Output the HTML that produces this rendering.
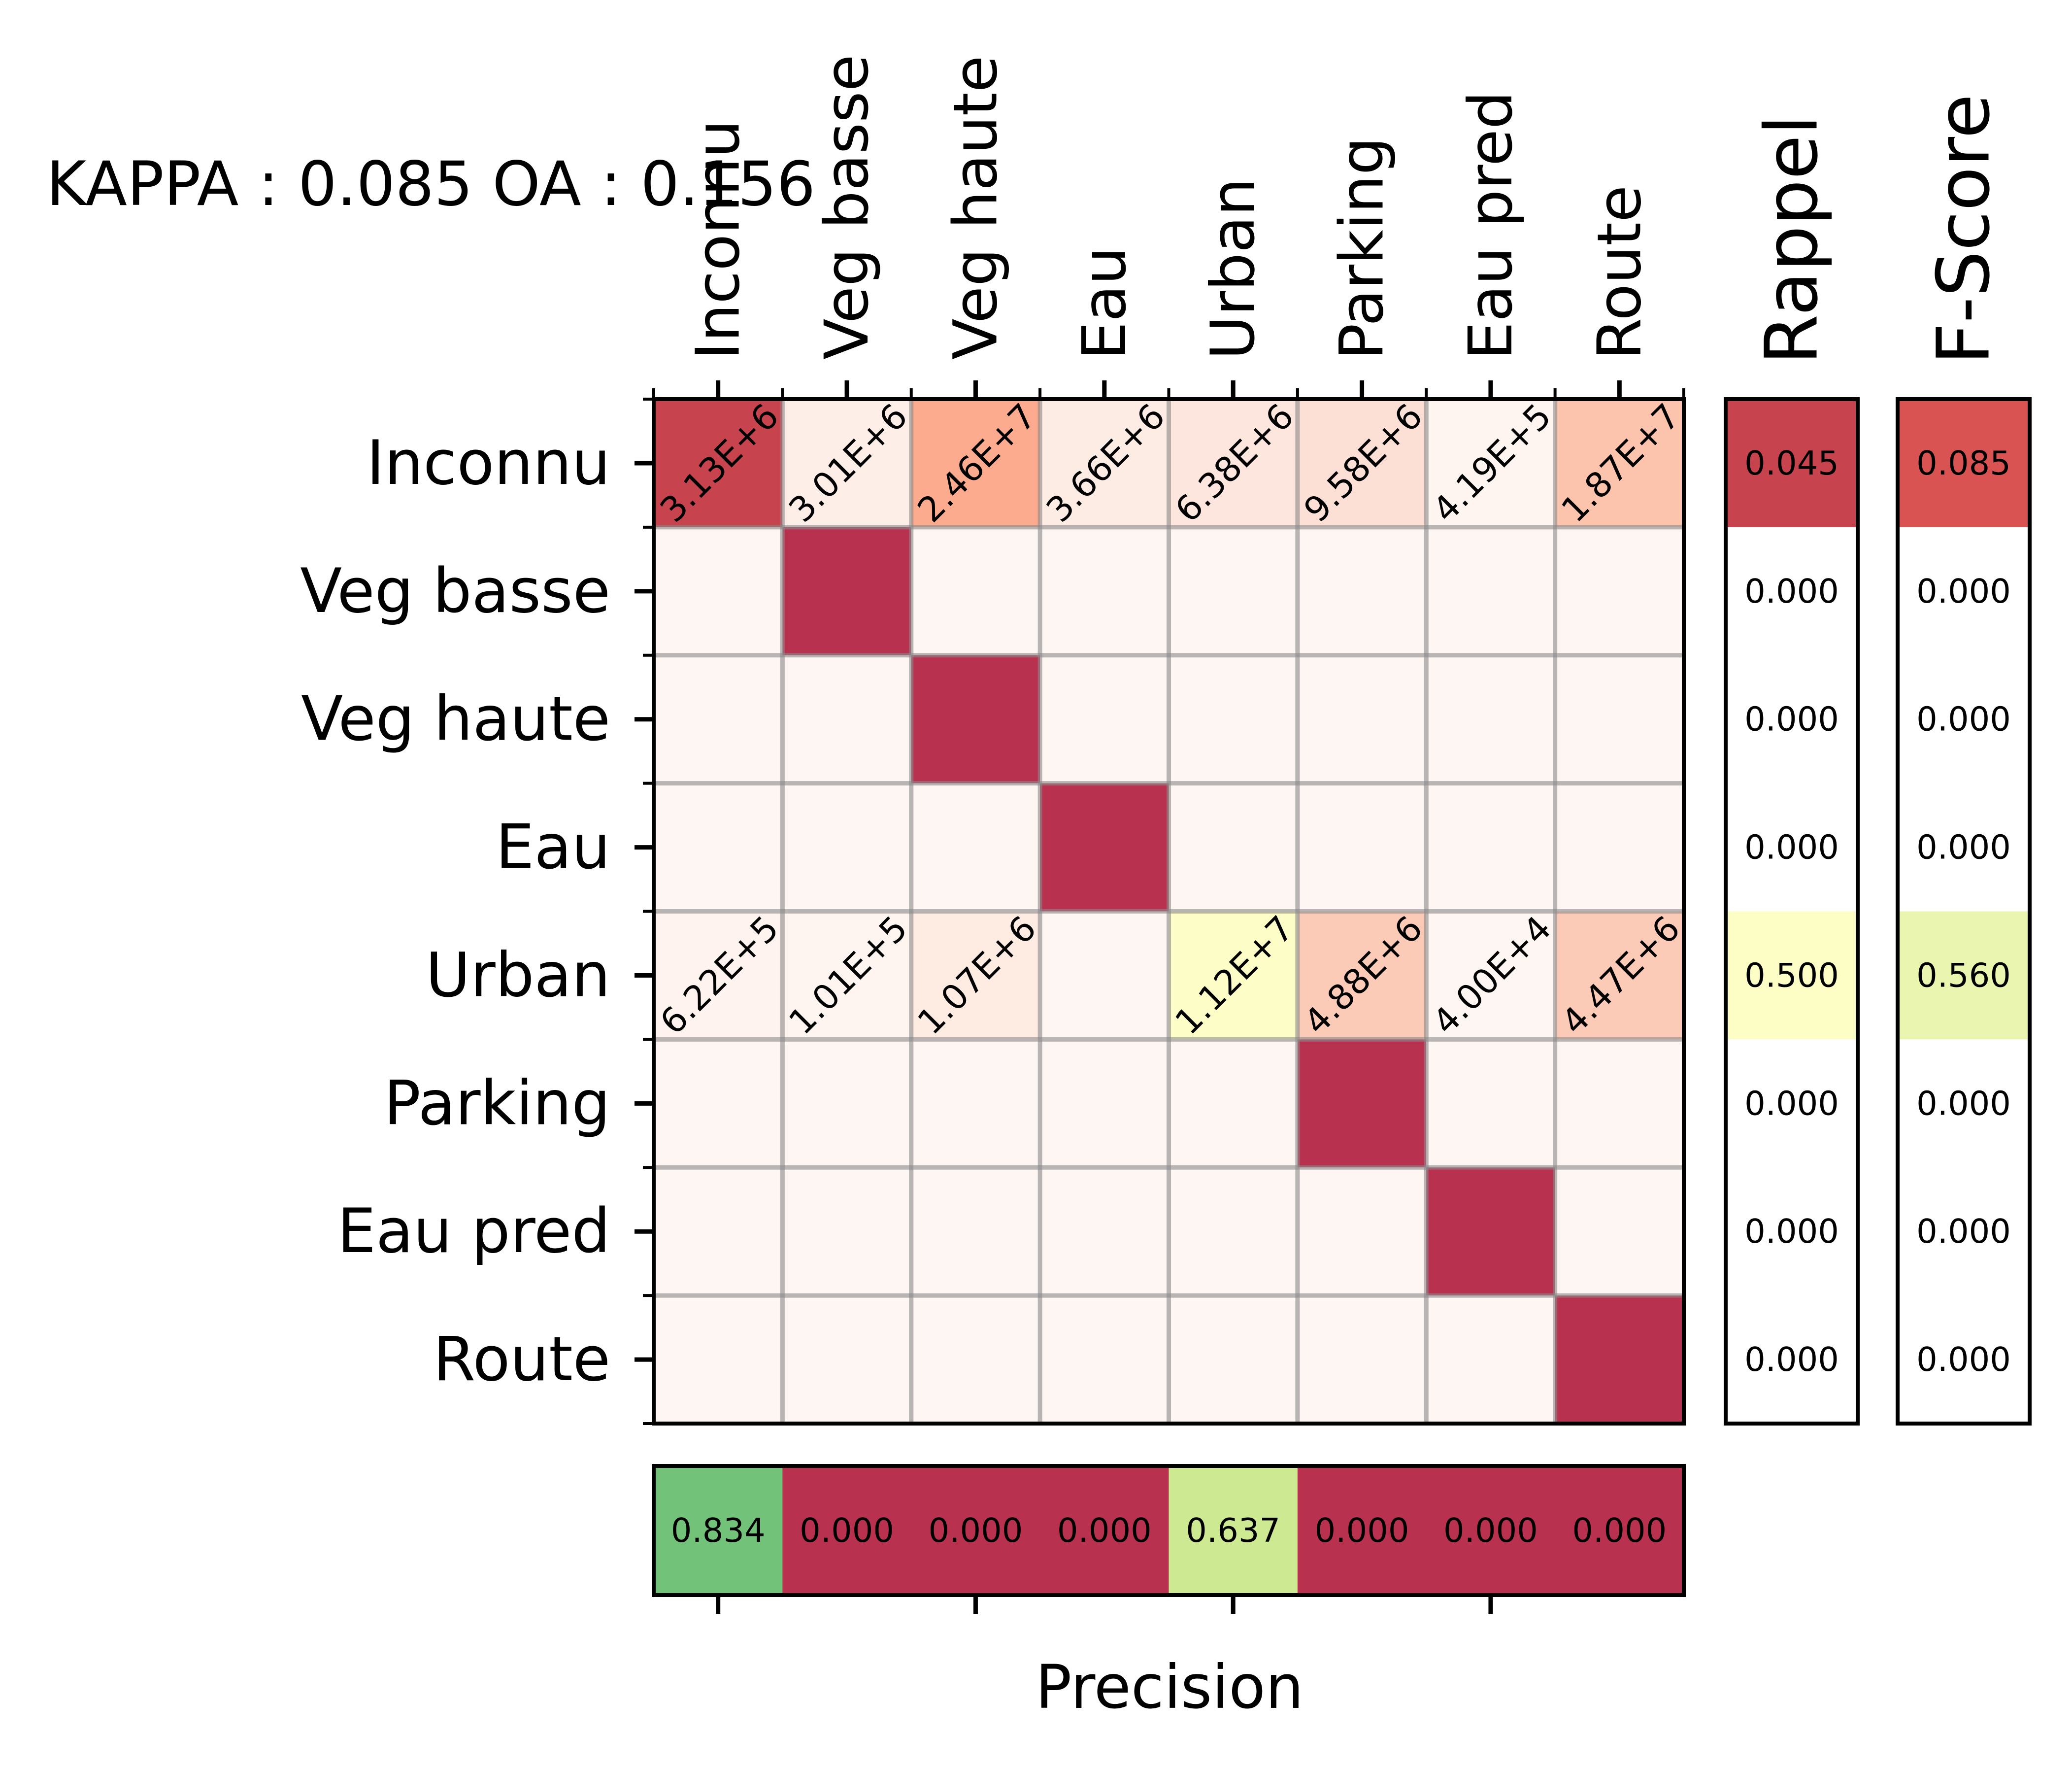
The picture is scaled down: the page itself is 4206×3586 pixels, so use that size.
<!DOCTYPE html>
<html><head><meta charset="utf-8"><style>
html,body{margin:0;padding:0;background:#fff}
svg{display:block}
text{font-family:"DejaVu Sans","Liberation Sans",sans-serif;fill:#000}
</style></head><body>
<svg id="chart" width="4206" height="3586" viewBox="0 0 4206 3586" xmlns="http://www.w3.org/2000/svg">
<text x="94" y="416" font-size="124">KAPPA : 0.085 OA : 0.156</text>
<g id="g"></g>
</svg>
<script>
const classes = ["Inconnu","Veg basse","Veg haute","Eau","Urban","Parking","Eau pred","Route"];
const cellLabels = [
 ["3.13E+6","3.01E+6","2.46E+7","3.66E+6","6.38E+6","9.58E+6","4.19E+5","1.87E+7"],
 ["","","","","","","",""],["","","","","","","",""],["","","","","","","",""],
 ["6.22E+5","1.01E+5","1.07E+6","","1.12E+7","4.88E+6","4.00E+4","4.47E+6"],
 ["","","","","","","",""],["","","","","","","",""],["","","","","","","",""]];
const cellColors = [
 ["#c7444f","#feeee8","#fcab8f","#fdece4","#fde6dd","#fde0d5","#fef5f1","#fcc4ac"],
 ["#fef6f3","#b83250","#fef6f3","#fef6f3","#fef6f3","#fef6f3","#fef6f3","#fef6f3"],
 ["#fef6f3","#fef6f3","#b83250","#fef6f3","#fef6f3","#fef6f3","#fef6f3","#fef6f3"],
 ["#fef6f3","#fef6f3","#fef6f3","#b83250","#fef6f3","#fef6f3","#fef6f3","#fef6f3"],
 ["#fef3ee","#fef5f1","#feebe2","#fef6f3","#fdfdc8","#fbcbb7","#fef6f3","#fbcbb7"],
 ["#fef6f3","#fef6f3","#fef6f3","#fef6f3","#fef6f3","#b83250","#fef6f3","#fef6f3"],
 ["#fef6f3","#fef6f3","#fef6f3","#fef6f3","#fef6f3","#fef6f3","#b83250","#fef6f3"],
 ["#fef6f3","#fef6f3","#fef6f3","#fef6f3","#fef6f3","#fef6f3","#fef6f3","#b83250"]];
const rappel = ["0.045","0.000","0.000","0.000","0.500","0.000","0.000","0.000"];
const rappelColors = ["#c7444f","#fff","#fff","#fff","#fdfdc6","#fff","#fff","#fff"];
const fscore = ["0.085","0.000","0.000","0.000","0.560","0.000","0.000","0.000"];
const fscoreColors = ["#d95353","#fff","#fff","#fff","#eaf5b0","#fff","#fff","#fff"];
const precision = ["0.834","0.000","0.000","0.000","0.637","0.000","0.000","0.000"];
const precisionColors = ["#73c27a","#b83250","#b83250","#b83250","#cde991","#b83250","#b83250","#b83250"];

const NS="http://www.w3.org/2000/svg";
const g=document.getElementById('g');
const X0=1327,X1=3418,Y0=810,Y1=2889;
const n=classes.length, cw=(X1-X0)/n, ch=(Y1-Y0)/n;
const xc=j=>X0+(j+0.5)*cw, yc=i=>Y0+(i+0.5)*ch;
function mk(t,a,txt){const e=document.createElementNS(NS,t);for(const k in a)e.setAttribute(k,a[k]);if(txt!==undefined)e.textContent=txt;g.appendChild(e);return e;}

for(let i=0;i<n;i++)for(let j=0;j<n;j++){
 const r=mk('rect',{x:X0+j*cw,y:Y0+i*ch,width:cw,height:ch,fill:cellColors[i][j]});
 
 
}
for(let k=1;k<n;k++){
 mk('line',{x1:X0+k*cw,x2:X0+k*cw,y1:Y0,y2:Y1,stroke:'#888',"stroke-opacity":0.6,"stroke-width":9});
 mk('line',{x1:X0,x2:X1,y1:Y0+k*ch,y2:Y0+k*ch,stroke:'#888',"stroke-opacity":0.6,"stroke-width":9});
}
for(let i=0;i<n;i++)for(let j=0;j<n;j++){
 if(!cellLabels[i][j])continue;
 const x=X0+j*cw+43,y=Y0+(i+1)*ch-6;
 const t=mk('text',{x:0,y:0,"font-size":70,transform:`translate(${x},${y}) rotate(-45)`},cellLabels[i][j]);
 
 
}
const fr=mk('rect',{x:X0,y:Y0,width:X1-X0,height:Y1-Y0,fill:'none',stroke:'#000',"stroke-width":8});


for(let j=0;j<n;j++){
 mk('line',{x1:xc(j),x2:xc(j),y1:Y0,y2:Y0-38,stroke:'#000',"stroke-width":9});
 const t=mk('text',{x:0,y:0,"font-size":122,"dominant-baseline":"central",transform:`translate(${xc(j)},730) rotate(-90)`},classes[j]);
 
 
}
for(let k=0;k<=n;k++){
 mk('line',{x1:X0+k*cw,x2:X0+k*cw,y1:Y0,y2:Y0-22,stroke:'#000',"stroke-width":6});
 mk('line',{x1:X0,x2:X0-22,y1:Y0+k*ch,y2:Y0+k*ch,stroke:'#000',"stroke-width":6});
}
for(let i=0;i<n;i++){
 mk('line',{x1:X0,x2:X0-39,y1:yc(i),y2:yc(i),stroke:'#000',"stroke-width":9});
 const t=mk('text',{x:1239,y:yc(i),"font-size":124,"text-anchor":"end","dominant-baseline":"central"},classes[i]);
 
 
}
function vbar(x0,x1,vals,cols,name,title){
 for(let i=0;i<n;i++){
  const r=mk('rect',{x:x0,y:Y0+i*ch,width:x1-x0,height:ch,fill:cols[i]});
  
  
  const t=mk('text',{x:(x0+x1)/2,y:yc(i),"font-size":67,"text-anchor":"middle","dominant-baseline":"central"},vals[i]);
  
  
 }
 const f=mk('rect',{x:x0,y:Y0,width:x1-x0,height:Y1-Y0,fill:'none',stroke:'#000',"stroke-width":8});
 
 
 const t=mk('text',{x:0,y:0,"font-size":147,"dominant-baseline":"central",transform:`translate(${(x0+x1)/2},740) rotate(-90)`},title);
 
 
}
vbar(3503,3771,rappel,rappelColors,'rappel','Rappel');
vbar(3852,4120,fscore,fscoreColors,'fscore','F-Score');
const PY0=2975,PY1=3237;
for(let j=0;j<n;j++){
 const r=mk('rect',{x:X0+j*cw,y:PY0,width:cw+1,height:PY1-PY0,fill:precisionColors[j]});
 
 
 const t=mk('text',{x:xc(j),y:(PY0+PY1)/2,"font-size":67,"text-anchor":"middle","dominant-baseline":"central"},precision[j]);
 
 
}
const pf=mk('rect',{x:X0,y:PY0,width:X1-X0,height:PY1-PY0,fill:'none',stroke:'#000',"stroke-width":8});


for(let j=0;j<n;j+=2) mk('line',{x1:xc(j),x2:xc(j),y1:PY1,y2:PY1+38,stroke:'#000',"stroke-width":9});
const pl=mk('text',{x:2374,y:3466,"font-size":122,"text-anchor":"middle"},'Precision');


</script>
</body></html>
